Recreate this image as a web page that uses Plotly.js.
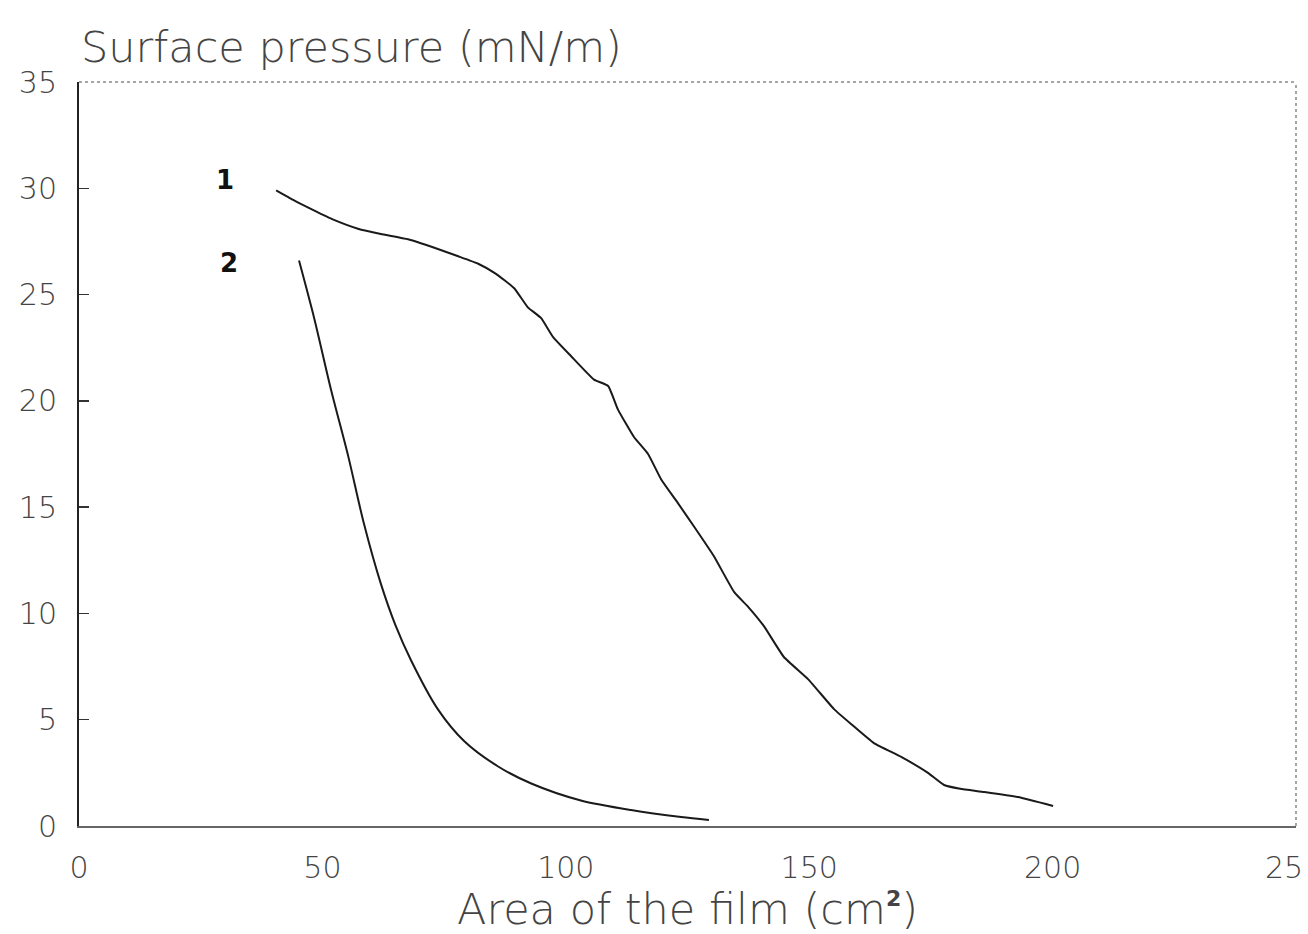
<!DOCTYPE html>
<html>
<head>
<meta charset="utf-8">
<script src="https://cdn.plot.ly/plotly-3.0.1.min.js"></script>
<style>html,body{margin:0;padding:0;background:#fff;}#chart{width:1308px;height:934px;}</style>
</head>
<body>
<div id="chart"></div>
<script>
// Curve 1
const area1 = [40.5, 44, 47, 52, 57.3, 62, 67.6, 73, 77.9, 82, 85.5, 89.4, 92.2, 94.9, 97.4, 101.1, 105.8, 108.7, 110.7, 114.0, 116.9, 119.6, 123, 126.3, 130.4, 134.6, 137.5, 140.7, 144.8, 149.8, 155.1, 158.6, 163.3, 168.9, 174.4, 177.7, 181, 186.0, 192.9, 200.1];
const pressure1 = [29.9, 29.45, 29.1, 28.55, 28.1, 27.85, 27.6, 27.2, 26.8, 26.45, 26.0, 25.3, 24.4, 23.9, 23.0, 22.1, 21.0, 20.7, 19.6, 18.3, 17.5, 16.3, 15.2, 14.1, 12.7, 11.0, 10.3, 9.4, 7.95, 6.9, 5.5, 4.8, 3.9, 3.25, 2.5, 1.93, 1.75, 1.6, 1.36, 0.94];
// Curve 2
const area2 = [45.2, 48.3, 51.8, 55.3, 58.5, 62.0, 65.0, 68.2, 73.7, 79.1, 86.1, 92.9, 103.1, 113.4, 123.7, 129.4];
const pressure2 = [26.6, 23.9, 20.5, 17.4, 14.25, 11.4, 9.45, 7.8, 5.5, 4.0, 2.8, 2.0, 1.2, 0.75, 0.42, 0.28];
// Tick labels (the last label is shown cut short as "25" in the source)
const xTickVals = [0, 50, 100, 150, 200, 250];
const xTickText = ['0', '50', '100', '150', '200', ''];
const lastXLabel = '25';
const yTickVals = [0, 5, 10, 15, 20, 25, 30, 35];
const curveLabels = ['1', '2'];

const lineStyle = {color: '#1a1a1a', width: 2};
const data = [
  {x: area1, y: pressure1, type: 'scatter', mode: 'lines', line: Object.assign({shape: 'spline', smoothing: 0.4}, lineStyle), name: curveLabels[0], hoverinfo: 'x+y'},
  {x: area2, y: pressure2, type: 'scatter', mode: 'lines', line: Object.assign({shape: 'spline', smoothing: 0.8}, lineStyle), name: curveLabels[1], hoverinfo: 'x+y'}
];

const tickFont = {family: 'DejaVu Sans', size: 30, color: '#444', weight: 200};
const layout = {
  width: 1308, height: 934,
  margin: {l: 79, r: 12, t: 82, b: 108},
  paper_bgcolor: '#fff', plot_bgcolor: '#fff',
  showlegend: false,
  xaxis: {
    range: [0, 250], tickvals: xTickVals, ticktext: xTickText,
    ticks: '', showgrid: false, zeroline: false,
    showline: true, linecolor: '#666', linewidth: 1.5,
    tickfont: tickFont, ticklabelstandoff: 14,
    title: {text: 'Area of the film (cm<sup><b><span style="font-size:22px">2</span></b></sup>)', font: {family: 'DejaVu Sans', size: 43, color: '#444', weight: 200}, standoff: 22},
    automargin: false,
    fixedrange: true
  },
  yaxis: {
    range: [0, 35], tickvals: yTickVals,
    ticks: 'inside', ticklen: 10, tickwidth: 1.5, tickcolor: '#333',
    showgrid: false, zeroline: false,
    showline: true, linecolor: '#222', linewidth: 2,
    tickfont: tickFont, ticklabelstandoff: 14,
    automargin: false,
    fixedrange: true
  },
  shapes: [
    {type: 'line', xref: 'paper', yref: 'paper', x0: 0, x1: 1, y0: 1, y1: 1, line: {color: '#888', width: 1.5, dash: 'dot'}},
    {type: 'line', xref: 'paper', yref: 'paper', x0: 1, x1: 1, y0: 0, y1: 1, line: {color: '#888', width: 1.5, dash: 'dot'}}
  ],
  annotations: [
    {text: 'Surface pressure (mN/m)', xref: 'paper', yref: 'paper', x: 0, y: 1, xanchor: 'left', yanchor: 'bottom', yshift: 8, showarrow: false, font: {family: 'DejaVu Sans', size: 43, color: '#444', weight: 200}},
    {text: lastXLabel, xref: 'x', yref: 'paper', x: xTickVals[5], y: 0, xanchor: 'center', yanchor: 'top', xshift: -12, yshift: -22, showarrow: false, font: tickFont},
    {text: '<b>' + curveLabels[0] + '</b>', x: 30, y: 30.4, xref: 'x', yref: 'y', showarrow: false, font: {family: 'DejaVu Sans', size: 26, color: '#111'}},
    {text: '<b>' + curveLabels[1] + '</b>', x: 30.8, y: 26.5, xref: 'x', yref: 'y', showarrow: false, font: {family: 'DejaVu Sans', size: 26, color: '#111'}}
  ]
};

Plotly.newPlot('chart', data, layout, {displayModeBar: false, staticPlot: true});
</script>
</body>
</html>
